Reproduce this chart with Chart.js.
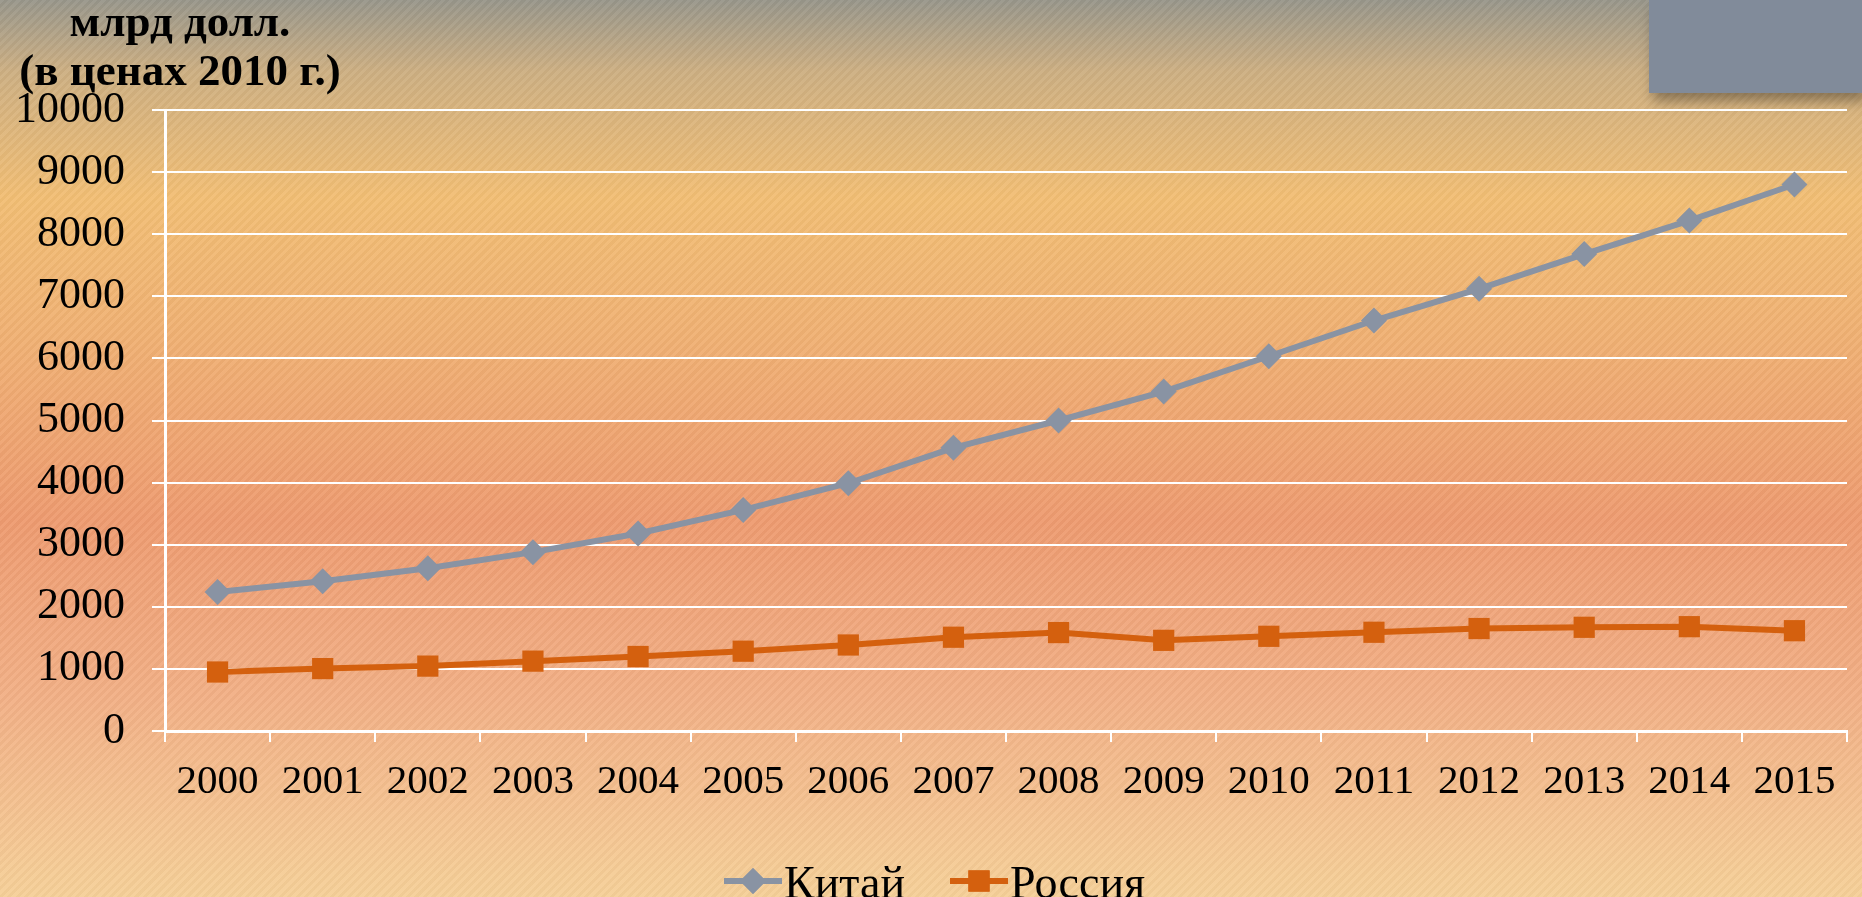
<!DOCTYPE html>
<html>
<head>
<meta charset="utf-8">
<script src="https://cdn.jsdelivr.net/npm/chart.js@4.4.0/dist/chart.umd.min.js"></script>
<style>
  html, body { margin: 0; padding: 0; overflow: hidden; }
  body {
    width: 1862px; height: 897px; position: relative;
    background:
      repeating-linear-gradient(135deg, rgba(255,255,255,0.05) 0 3px, rgba(0,0,0,0.025) 3px 6px),
      linear-gradient(to bottom,
        rgb(152,150,138) 0%,
        rgb(205,175,130) 8%,
        rgb(242,190,116) 22%,
        rgb(240,176,115) 38%,
        rgb(238,155,112) 58%,
        rgb(242,176,134) 78%,
        rgb(246,208,152) 100%);
  }
  #title {
    position: absolute; left: 0; top: -3px; width: 360px;
    text-align: center; font: bold 45px/49px "Liberation Serif", serif; color: #000;
  }
  #box {
    position: absolute; left: 1649px; top: 0; width: 213px; height: 93px;
    background: #818b9a; box-shadow: 4px 8px 12px rgba(0,0,0,0.35);
  }
  canvas { position: absolute; left: 0; top: 0; }
</style>
</head>
<body>
<div id="box"></div>
<canvas id="gdpChart" width="1862" height="897"></canvas>
<div id="title">млрд долл.<br>(в ценах 2010 г.)</div>
<script>
// values
const years = ["2000", "2001", "2002", "2003", "2004", "2005", "2006", "2007",
               "2008", "2009", "2010", "2011", "2012", "2013", "2014", "2015"];
const china = [2240, 2410, 2620, 2880, 3180, 3560, 3990, 4560,
               5000, 5465, 6035, 6610, 7120, 7680, 8220, 8800];
const russia = [950, 1005, 1045, 1125, 1200, 1285, 1385, 1510,
                1585, 1460, 1525, 1590, 1650, 1670, 1680, 1615];
const seriesNames = ["Китай", "Россия"];

Chart.defaults.font.family = "'Liberation Serif', serif";
Chart.defaults.color = "#000";

// legend drawn as line + marker, like the original
const legendX = [724, 950];
const lineLegend = {
    id: "lineLegend",
    afterDraw(chart) {
        const ctx = chart.ctx;
        const y = 881;
        ctx.save();
        ctx.font = "46px 'Liberation Serif', serif";
        ctx.textBaseline = "alphabetic";
        chart.data.datasets.forEach((ds, i) => {
            const x = legendX[i];
            ctx.strokeStyle = ds.borderColor;
            ctx.lineWidth = 6;
            ctx.beginPath();
            ctx.moveTo(x, y);
            ctx.lineTo(x + 58, y);
            ctx.stroke();
            ctx.fillStyle = ds.borderColor;
            Chart.helpers.drawPoint(ctx, {
                pointStyle: ds.pointStyle,
                radius: ds.pointRadius,
                borderWidth: 0
            }, x + 29, y);
            ctx.fill();
            ctx.fillStyle = "#000";
            ctx.fillText(ds.label, x + 60, y + 17);
        });
        ctx.restore();
    }
};

new Chart(document.getElementById("gdpChart").getContext("2d"), {
    type: "line",
    data: {
        labels: years,
        datasets: [{
            label: seriesNames[0],
            data: china,
            borderColor: "#8993a3",
            backgroundColor: "#8993a3",
            borderWidth: 6,
            pointStyle: "rectRot",
            pointRadius: 13,
            pointBorderWidth: 0,
            tension: 0,
        }, {
            label: seriesNames[1],
            data: russia,
            borderColor: "#d4600e",
            backgroundColor: "#d4600e",
            borderWidth: 6,
            pointStyle: "rect",
            pointRadius: 15,
            pointBorderWidth: 0,
            tension: 0,
        }],
    },
    options: {
        responsive: false,
        animation: false,
        layout: { padding: { left: 0, right: 0, top: 110, bottom: 86 } },
        plugins: {
            legend: { display: false },
            tooltip: { enabled: false },
        },
        scales: {
            x: {
                offset: true,
                grid: {
                    offset: true,
                    drawOnChartArea: false,
                    color: "#ffffff",
                    lineWidth: 2,
                    tickLength: 11,
                },
                border: { color: "#ffffff", width: 3 },
                ticks: {
                    font: { size: 41 },
                    padding: 16,
                    maxRotation: 0,
                    autoSkip: false,
                },
                afterFit: (scale) => { scale.height = 80; },
            },
            y: {
                min: 0,
                max: 10000,
                grid: {
                    color: "#ffffff",
                    lineWidth: 2,
                    tickLength: 13,
                },
                border: { color: "#ffffff", width: 3 },
                ticks: {
                    stepSize: 1000,
                    font: { size: 44 },
                    padding: 27,
                    callback: (value) => String(value),
                },
                afterFit: (scale) => { scale.width = 165; },
            },
        },
    },
    plugins: [lineLegend],
});
</script>
</body>
</html>
